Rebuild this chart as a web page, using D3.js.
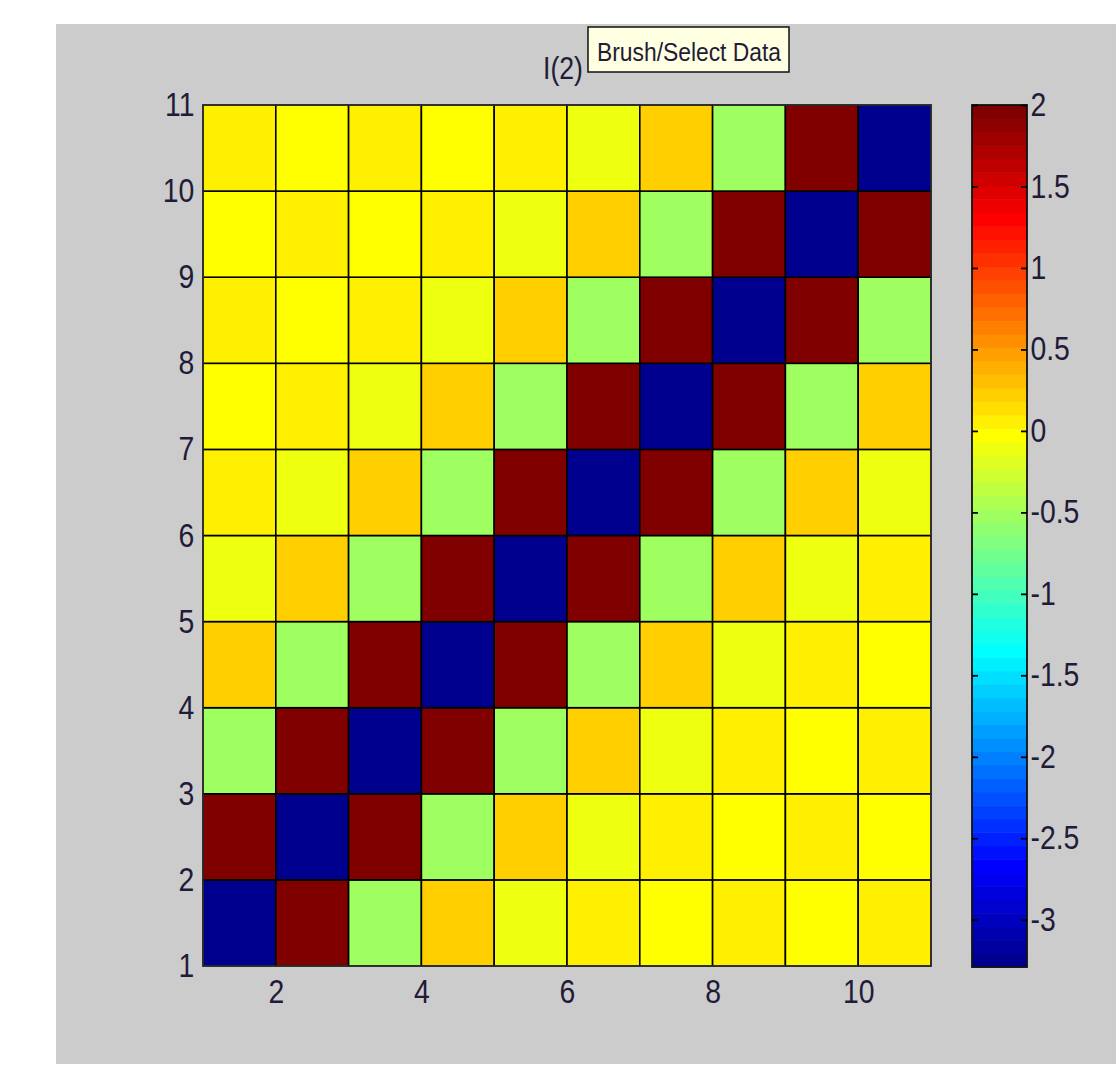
<!DOCTYPE html>
<html>
<head>
<meta charset="utf-8">
<script src="https://cdn.jsdelivr.net/npm/d3@7"></script>
<style>
  body { margin: 0; background: #fff; }
  svg text { font-family: "Liberation Sans", Arial, sans-serif; fill: #1f1b38; }
</style>
</head>
<body>
<svg id="chart" width="1116" height="1065"></svg>
<script>
// cell values, row y=1 (bottom) to y=10 (top), columns x=1..10
var row1  = [-3.29, 2, -0.5, 0.222, -0.125, 0.08, -0.056, 0.041, -0.031, 0.025];
var row2  = [2, -3.29, 2, -0.5, 0.222, -0.125, 0.08, -0.056, 0.041, -0.031];
var row3  = [-0.5, 2, -3.29, 2, -0.5, 0.222, -0.125, 0.08, -0.056, 0.041];
var row4  = [0.222, -0.5, 2, -3.29, 2, -0.5, 0.222, -0.125, 0.08, -0.056];
var row5  = [-0.125, 0.222, -0.5, 2, -3.29, 2, -0.5, 0.222, -0.125, 0.08];
var row6  = [0.08, -0.125, 0.222, -0.5, 2, -3.29, 2, -0.5, 0.222, -0.125];
var row7  = [-0.056, 0.08, -0.125, 0.222, -0.5, 2, -3.29, 2, -0.5, 0.222];
var row8  = [0.041, -0.056, 0.08, -0.125, 0.222, -0.5, 2, -3.29, 2, -0.5];
var row9  = [-0.031, 0.041, -0.056, 0.08, -0.125, 0.222, -0.5, 2, -3.29, 2];
var row10 = [0.025, -0.031, 0.041, -0.056, 0.08, -0.125, 0.222, -0.5, 2, -3.29];
var rows = [row1, row2, row3, row4, row5, row6, row7, row8, row9, row10];

var xTicks = [2, 4, 6, 8, 10];
var yTicks = [1, 2, 3, 4, 5, 6, 7, 8, 9, 10, 11];
var cbTicks = [2, 1.5, 1, 0.5, 0, -0.5, -1, -1.5, -2, -2.5, -3];
var clim = [-3.29, 2];
var titulo = "I(2)";
var tooltip = "Brush/Select Data";

// jet colormap, 64 levels, same way matlab builds it
function jet(m) {
  var n = Math.ceil(m / 4);
  var u = [];
  for (var i = 1; i <= n; i++) u.push(i / n);
  for (var i = 1; i < n; i++) u.push(1);
  for (var i = n; i >= 1; i--) u.push(i / n);
  var off = Math.ceil(n / 2) - (m % 4 === 1 ? 1 : 0);
  var cols = d3.range(m).map(function() { return [0, 0, 0]; });
  u.forEach(function(v, k) {
    var g = off + k + 1, r = g + n, b = g - n;
    if (g >= 1 && g <= m) cols[g - 1][1] = v;
    if (r >= 1 && r <= m) cols[r - 1][0] = v;
    if (b >= 1 && b <= m) cols[b - 1][2] = v;
  });
  return cols.map(function(c) { return d3.rgb(c[0] * 255, c[1] * 255, c[2] * 255).toString(); });
}
var mapa = jet(64);
function colorDe(v) {
  var idx = Math.floor((v - clim[0]) / (clim[1] - clim[0]) * 64);
  idx = Math.max(0, Math.min(63, idx));
  return mapa[idx];
}

var svg = d3.select("#chart");
var pLeft = 203, pRight = 931, pTop = 105, pBottom = 966;

// gray figure background
svg.append("rect").attr("x", 56).attr("y", 24).attr("width", 1060).attr("height", 1040).attr("fill", "#cccccc");

var x = d3.scaleLinear().domain([1, 11]).range([pLeft, pRight]);
var y = d3.scaleLinear().domain([1, 11]).range([pBottom, pTop]);

var celdas = [];
rows.forEach(function(r, i) {
  r.forEach(function(v, j) { celdas.push({ x: j + 1, y: i + 1, v: v }); });
});

var g = svg.append("g");
g.selectAll("rect.celda")
  .data(celdas)
  .enter().append("rect")
    .attr("class", "celda")
    .attr("x", function(d) { return x(d.x); })
    .attr("y", function(d) { return y(d.y + 1); })
    .attr("width", function(d) { return x(d.x + 1) - x(d.x); })
    .attr("height", function(d) { return y(d.y) - y(d.y + 1); })
    .attr("fill", function(d) { return colorDe(d.v); })
    .attr("stroke", "#000")
    .attr("stroke-width", 1.6);

// axis box
g.append("rect")
  .attr("x", pLeft).attr("y", pTop)
  .attr("width", pRight - pLeft).attr("height", pBottom - pTop)
  .attr("fill", "none").attr("stroke", "#333").attr("stroke-width", 1.5);

var ejeX = g.append("g")
  .attr("transform", "translate(0," + pBottom + ")")
  .call(d3.axisBottom(x).tickValues(xTicks).tickSize(0).tickPadding(14).tickFormat(function(d) { return String(d); }));
var ejeY = g.append("g")
  .attr("transform", "translate(" + pLeft + ",0)")
  .call(d3.axisLeft(y).tickValues(yTicks).tickSize(0).tickPadding(10).tickFormat(function(d) { return String(d); }));
[ejeX, ejeY].forEach(function(e) {
  e.select(".domain").remove();
  e.selectAll("text").attr("font-size", 33).attr("fill", "#1f1b38").attr("font-family", "Liberation Sans, Arial, sans-serif");
});
ejeX.selectAll("text").attr("transform", "scale(0.86,1)").attr("x", 0);
ejeY.selectAll("text").attr("transform", "scale(0.86,1)");

// title
svg.append("text")
  .attr("x", 563).attr("y", 79)
  .attr("text-anchor", "middle")
  .attr("font-size", 31)
  .attr("transform", "translate(563,0) scale(0.86,1) translate(-563,0)")
  .text(titulo);

// colorbar
var cbLeft = 972, cbRight = 1027;
var cy = d3.scaleLinear().domain(clim).range([967, 105]);
var paso = (clim[1] - clim[0]) / 64;
svg.append("g").selectAll("rect")
  .data(mapa)
  .enter().append("rect")
    .attr("x", cbLeft)
    .attr("y", function(d, i) { return cy(clim[0] + (i + 1) * paso); })
    .attr("width", cbRight - cbLeft)
    .attr("height", function(d, i) { return cy(clim[0] + i * paso) - cy(clim[0] + (i + 1) * paso) + 0.5; })
    .attr("fill", function(d) { return d; });
svg.append("rect")
  .attr("x", cbLeft).attr("y", 105)
  .attr("width", cbRight - cbLeft).attr("height", 967 - 105)
  .attr("fill", "none").attr("stroke", "#111").attr("stroke-width", 1.8);

var cbEje = svg.append("g")
  .attr("transform", "translate(" + cbRight + ",0)")
  .call(d3.axisRight(cy).tickValues(cbTicks).tickSize(-6).tickPadding(4).tickFormat(function(d) { return String(d); }));
cbEje.select(".domain").remove();
cbEje.selectAll("line").attr("stroke", "#000").attr("stroke-width", 1.8);
cbEje.selectAll("text").attr("font-size", 33).attr("fill", "#1f1b38").attr("font-family", "Liberation Sans, Arial, sans-serif")
  .attr("transform", "scale(0.86,1)");
var cbEje2 = svg.append("g")
  .attr("transform", "translate(" + cbLeft + ",0)")
  .call(d3.axisLeft(cy).tickValues(cbTicks).tickSize(-6).tickFormat(""));
cbEje2.select(".domain").remove();
cbEje2.selectAll("line").attr("stroke", "#000").attr("stroke-width", 1.8);

// tooltip box
var tip = svg.append("g");
tip.append("rect")
  .attr("x", 588).attr("y", 27).attr("width", 201).attr("height", 45)
  .attr("fill", "#ffffe1").attr("stroke", "#111").attr("stroke-width", 1.5);
tip.append("text")
  .attr("x", 597).attr("y", 61)
  .attr("font-size", 26)
  .attr("font-family", "DejaVu Sans, sans-serif")
  .attr("textLength", 184).attr("lengthAdjust", "spacingAndGlyphs")
  .text(tooltip);
</script>
</body>
</html>
